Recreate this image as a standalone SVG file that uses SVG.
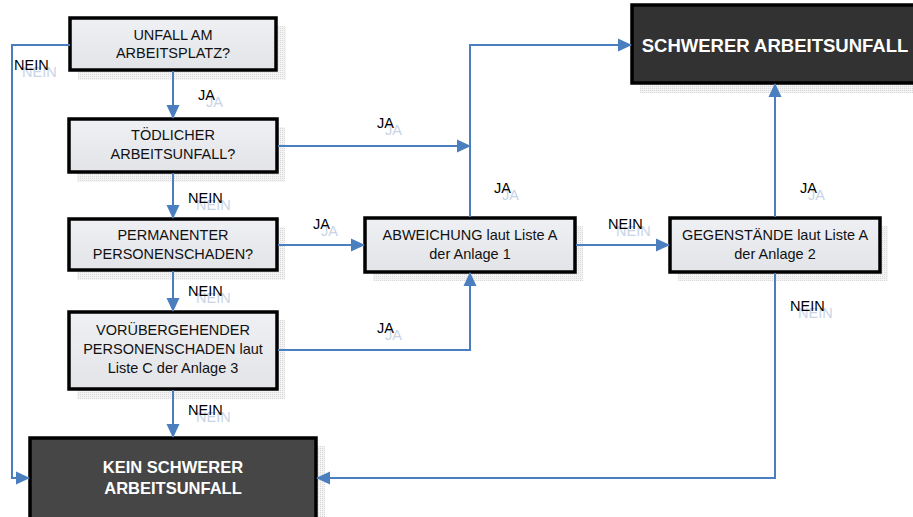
<svg xmlns="http://www.w3.org/2000/svg" width="913" height="517" viewBox="0 0 913 517">
<defs>
<pattern id="dots" width="2" height="2" patternUnits="userSpaceOnUse">
<rect width="2" height="2" fill="#f4f4f4"/>
<rect width="1" height="1" fill="#d8d8d8"/>
</pattern>
<linearGradient id="lg" x1="0" y1="0" x2="0" y2="1">
<stop offset="0" stop-color="#eef0f4"/>
<stop offset="1" stop-color="#e2e4e8"/>
</linearGradient>
<marker id="arr" markerWidth="14" markerHeight="14" refX="13" refY="7" orient="auto" markerUnits="userSpaceOnUse">
<path d="M0,0.5 L14,7 L0,13.5 Z" fill="#4a7ebf"/>
</marker>
</defs>
<style>
.sh{fill:url(#dots)}
.bx{fill:url(#lg);stroke:#000;stroke-width:3.5}
.dk{stroke:#000;stroke-width:3.5}
.t{font-family:"Liberation Sans",Arial,sans-serif;font-size:14.5px;fill:#111;text-anchor:middle}
.tw{font-family:"Liberation Sans",Arial,sans-serif;font-size:16.5px;font-weight:bold;fill:#fff;text-anchor:middle}
.lb{font-family:"Liberation Sans",Arial,sans-serif;font-size:14.5px;fill:#000}
.gh{font-family:"Liberation Sans",Arial,sans-serif;font-size:14.5px;fill:#c8d4e6}
.c{fill:none;stroke:#4a7ebf;stroke-width:2}
</style>
<rect width="913" height="517" fill="#fff"/>

<g id="n1">
<rect class="sh" x="78" y="26" width="208" height="54"/>
<rect class="bx" x="70" y="18" width="206" height="52"/>
<text class="t" x="173" y="40">UNFALL AM</text>
<text class="t" x="173" y="58">ARBEITSPLATZ?</text>
</g>
<g id="n2">
<rect class="sh" x="77" y="127" width="208" height="55"/>
<rect class="bx" x="69" y="119" width="208" height="53"/>
<text class="t" x="173" y="140">TÖDLICHER</text>
<text class="t" x="173" y="159">ARBEITSUNFALL?</text>
</g>
<g id="n3">
<rect class="sh" x="77" y="227" width="208" height="53"/>
<rect class="bx" x="69" y="219" width="208" height="51"/>
<text class="t" x="173" y="240">PERMANENTER</text>
<text class="t" x="173" y="259">PERSONENSCHADEN?</text>
</g>
<g id="n4">
<rect class="sh" x="77" y="320" width="208" height="79"/>
<rect class="bx" x="69" y="312" width="208" height="77"/>
<text class="t" x="173" y="335">VORÜBERGEHENDER</text>
<text class="t" x="173" y="354">PERSONENSCHADEN laut</text>
<text class="t" x="173" y="373">Liste C der Anlage 3</text>
</g>
<g id="n5">
<rect class="sh" x="38" y="446" width="287" height="80"/>
<rect class="dk" x="30" y="438" width="286" height="90" fill="#464646"/>
<text class="tw" x="173" y="473">KEIN SCHWERER</text>
<text class="tw" x="173" y="494">ARBEITSUNFALL</text>
</g>
<g id="n6">
<rect class="sh" x="373" y="226" width="210" height="55"/>
<rect class="bx" x="365" y="218" width="210" height="54"/>
<text class="t" x="470" y="240">ABWEICHUNG laut Liste A</text>
<text class="t" x="470" y="259">der Anlage 1</text>
</g>
<g id="n7">
<rect class="sh" x="678" y="226" width="210" height="55"/>
<rect class="bx" x="670" y="218" width="210" height="54"/>
<text class="t" x="775" y="240">GEGENSTÄNDE laut Liste A</text>
<text class="t" x="775" y="259">der Anlage 2</text>
</g>
<g id="n8">
<rect class="sh" x="640" y="13" width="280" height="80"/>
<rect class="dk" x="632" y="5" width="290" height="78" fill="#323232"/>
<text class="tw" x="775" y="52" style="font-size:18.5px">SCHWERER ARBEITSUNFALL</text>
</g>

<g id="connectors">
<path class="c" d="M70,45 H12 V478 H29" marker-end="url(#arr)"/>
<path class="c" d="M173,71 V118" marker-end="url(#arr)"/>
<path class="c" d="M173,173 V218" marker-end="url(#arr)"/>
<path class="c" d="M173,271 V311" marker-end="url(#arr)"/>
<path class="c" d="M173,390 V437" marker-end="url(#arr)"/>
<path class="c" d="M278,146 H470" marker-end="url(#arr)"/>
<path class="c" d="M470,217 V45 H631" marker-end="url(#arr)"/>
<path class="c" d="M278,245 H364" marker-end="url(#arr)"/>
<path class="c" d="M278,350 H470 V273" marker-end="url(#arr)"/>
<path class="c" d="M576,245 H669" marker-end="url(#arr)"/>
<path class="c" d="M775,217 V84" marker-end="url(#arr)"/>
<path class="c" d="M775,273 V478 H317" marker-end="url(#arr)"/>
</g>

<g id="labels">
<text class="gh" x="22" y="77">NEIN</text><text class="lb" x="14" y="70">NEIN</text>
<text class="gh" x="206" y="107">JA</text><text class="lb" x="198" y="100">JA</text>
<text class="gh" x="196" y="210">NEIN</text><text class="lb" x="188" y="203">NEIN</text>
<text class="gh" x="196" y="303">NEIN</text><text class="lb" x="188" y="296">NEIN</text>
<text class="gh" x="196" y="422">NEIN</text><text class="lb" x="188" y="415">NEIN</text>
<text class="gh" x="385" y="135">JA</text><text class="lb" x="377" y="128">JA</text>
<text class="gh" x="502" y="200">JA</text><text class="lb" x="494" y="193">JA</text>
<text class="gh" x="321" y="236">JA</text><text class="lb" x="313" y="229">JA</text>
<text class="gh" x="385" y="340">JA</text><text class="lb" x="377" y="333">JA</text>
<text class="gh" x="616" y="236">NEIN</text><text class="lb" x="608" y="229">NEIN</text>
<text class="gh" x="808" y="200">JA</text><text class="lb" x="800" y="193">JA</text>
<text class="gh" x="798" y="318">NEIN</text><text class="lb" x="790" y="311">NEIN</text>
</g>
</svg>
